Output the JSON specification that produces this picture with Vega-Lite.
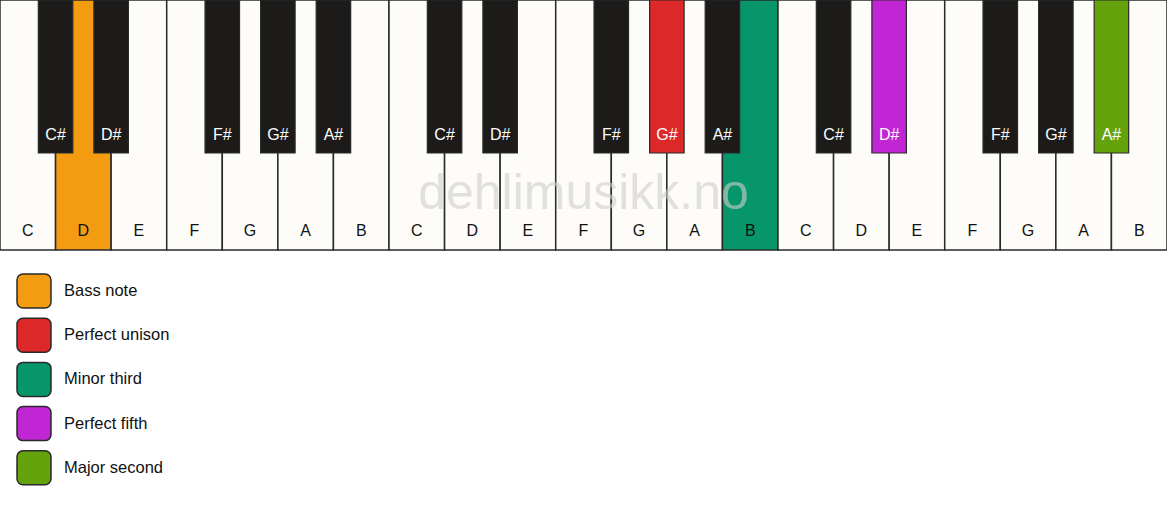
{
  "$schema": "https://vega.github.io/schema/vega-lite/v6.json",
  "width": 1167,
  "height": 250,
  "autosize": {"type": "none"},
  "padding": {"left": 0, "top": 0, "right": 0, "bottom": 256},
  "background": "#ffffff",
  "config": {"view": {"stroke": null}, "font": "Liberation Sans"},
  "datasets": {
    "white": [
      {"key": 0, "note": "C", "role": "white"},
      {"key": 1, "note": "D", "role": "Bass note"},
      {"key": 2, "note": "E", "role": "white"},
      {"key": 3, "note": "F", "role": "white"},
      {"key": 4, "note": "G", "role": "white"},
      {"key": 5, "note": "A", "role": "white"},
      {"key": 6, "note": "B", "role": "white"},
      {"key": 7, "note": "C", "role": "white"},
      {"key": 8, "note": "D", "role": "white"},
      {"key": 9, "note": "E", "role": "white"},
      {"key": 10, "note": "F", "role": "white"},
      {"key": 11, "note": "G", "role": "white"},
      {"key": 12, "note": "A", "role": "white"},
      {"key": 13, "note": "B", "role": "Minor third"},
      {"key": 14, "note": "C", "role": "white"},
      {"key": 15, "note": "D", "role": "white"},
      {"key": 16, "note": "E", "role": "white"},
      {"key": 17, "note": "F", "role": "white"},
      {"key": 18, "note": "G", "role": "white"},
      {"key": 19, "note": "A", "role": "white"},
      {"key": 20, "note": "B", "role": "white"}
    ],
    "black": [
      {"key": 0.5, "note": "C#", "role": "black"},
      {"key": 1.5, "note": "D#", "role": "black"},
      {"key": 3.5, "note": "F#", "role": "black"},
      {"key": 4.5, "note": "G#", "role": "black"},
      {"key": 5.5, "note": "A#", "role": "black"},
      {"key": 7.5, "note": "C#", "role": "black"},
      {"key": 8.5, "note": "D#", "role": "black"},
      {"key": 10.5, "note": "F#", "role": "black"},
      {"key": 11.5, "note": "G#", "role": "Perfect unison"},
      {"key": 12.5, "note": "A#", "role": "black"},
      {"key": 14.5, "note": "C#", "role": "black"},
      {"key": 15.5, "note": "D#", "role": "Perfect fifth"},
      {"key": 17.5, "note": "F#", "role": "black"},
      {"key": 18.5, "note": "G#", "role": "black"},
      {"key": 19.5, "note": "A#", "role": "Major second"}
    ],
    "mark": [{"label": "dehlimusikk.no", "key": 10}]
  },
  "encoding": {
    "x": {"field": "key", "type": "quantitative", "scale": {"domain": [-0.5, 20.5], "nice": false, "zero": false}, "axis": null}
  },
  "layer": [
    {
      "data": {"name": "white"},
      "mark": {"type": "rect", "width": 55.57, "stroke": "#2a2a2a", "strokeWidth": 1.5},
      "encoding": {
        "y": {"datum": 0, "type": "quantitative", "scale": {"domain": [0, 1], "reverse": true, "nice": false, "zero": false}, "axis": null},
        "y2": {"datum": 1},
        "fill": {
          "field": "role", "type": "nominal",
          "scale": {
            "domain": ["Bass note", "Perfect unison", "Minor third", "Perfect fifth", "Major second", "white", "black"],
            "range": ["#F39C12", "#DC2828", "#06966A", "#C026D3", "#65A30D", "#FDFCF9", "#1C1B1A"]
          },
          "legend": {
            "values": ["Bass note", "Perfect unison", "Minor third", "Perfect fifth", "Major second"],
            "title": null,
            "orient": "none",
            "legendX": 16,
            "legendY": 273,
            "padding": 0,
            "direction": "vertical",
            "symbolType": "M-1,-0.65 A0.35,0.35 0 0 1 -0.65,-1 L0.65,-1 A0.35,0.35 0 0 1 1,-0.65 L1,0.65 A0.35,0.35 0 0 1 0.65,1 L-0.65,1 A0.35,0.35 0 0 1 -1,0.65 Z",
            "symbolSize": 1156,
            "symbolStrokeColor": "#222222",
            "symbolStrokeWidth": 1.5,
            "symbolOpacity": 1,
            "labelFontSize": 16.5,
            "labelFont": "Liberation Sans",
            "labelColor": "#111111",
            "labelOffset": 12,
            "rowPadding": 4.2,
            "labelLimit": 300
          }
        }
      }
    },
    {
      "data": {"name": "white"},
      "mark": {"type": "text", "fontSize": 16, "color": "#111111", "baseline": "middle"},
      "encoding": {
        "y": {"datum": 0.925, "type": "quantitative"},
        "text": {"field": "note"}
      }
    },
    {
      "data": {"name": "mark"},
      "mark": {"type": "text", "fontSize": 50, "color": "#cfcfcf", "opacity": 0.6, "baseline": "middle"},
      "encoding": {
        "y": {"datum": 0.776, "type": "quantitative"},
        "text": {"field": "label"}
      }
    },
    {
      "data": {"name": "black"},
      "mark": {"type": "rect", "width": 34.5, "stroke": "#2a2a2a", "strokeWidth": 1.2},
      "encoding": {
        "y": {"datum": 0, "type": "quantitative"},
        "y2": {"datum": 0.612},
        "fill": {"field": "role", "type": "nominal"}
      }
    },
    {
      "data": {"name": "black"},
      "mark": {"type": "text", "fontSize": 16, "color": "#ffffff", "baseline": "middle"},
      "encoding": {
        "y": {"datum": 0.538, "type": "quantitative"},
        "text": {"field": "note"}
      }
    }
  ]
}
